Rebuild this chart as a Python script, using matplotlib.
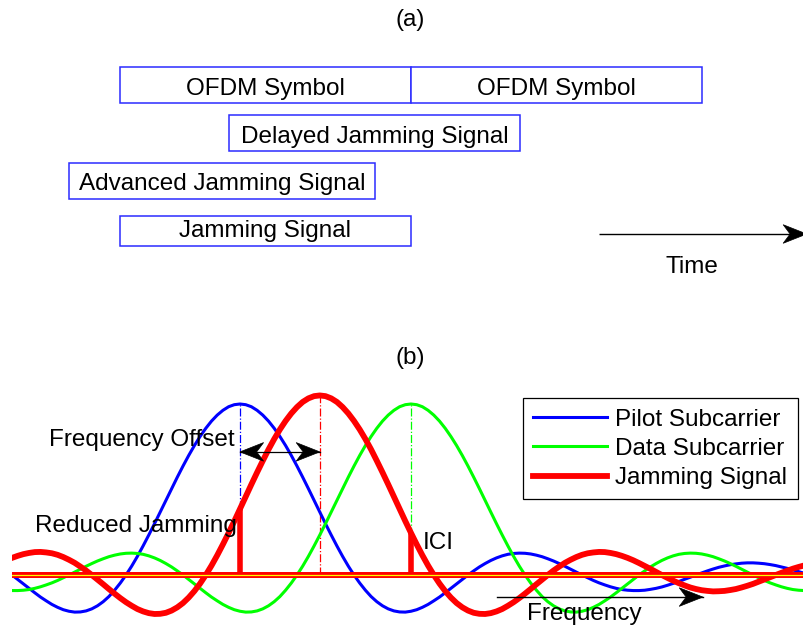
import numpy as np
import matplotlib.pyplot as plt
from matplotlib.patches import Rectangle, Polygon
from matplotlib.transforms import ScaledTranslation

plt.rcParams['font.family'] = ['Liberation Sans', 'DejaVu Sans']
FS = 17.5

# (a) time slots, start and length in OFDM symbol durations
slot_labels = ['OFDM Symbol', 'OFDM Symbol', 'Delayed Jamming Signal',
               'Advanced Jamming Signal', 'Jamming Signal']
slot_start = [0.0, 1.0, 0.375, -0.175, 0.0]
slot_length = [1.0, 1.0, 1.0, 1.05, 1.0]
slot_row = [0, 0, 1, 2, 3]

# (b) spectra against frequency in subcarrier spacings (-2 .. 5, step 0.05)
freq = np.linspace(-2, 5, 141)
pilot = [0.000, -0.026, -0.052, -0.078, -0.104, -0.129, -0.151, -0.172, -0.189, -0.203,
         -0.212, -0.217, -0.216, -0.210, -0.198, -0.180, -0.156, -0.126, -0.089, -0.047,
         0.000, 0.052, 0.109, 0.170, 0.234, 0.300, 0.368, 0.436, 0.505, 0.572,
         0.637, 0.699, 0.757, 0.810, 0.858, 0.900, 0.935, 0.963, 0.984, 0.996,
         1.000,
         0.996, 0.984, 0.963, 0.935, 0.900, 0.858, 0.810, 0.757, 0.699, 0.637,
         0.572, 0.505, 0.436, 0.368, 0.300, 0.234, 0.170, 0.109, 0.052, 0.000,
         -0.047, -0.089, -0.126, -0.156, -0.180, -0.198, -0.210, -0.216, -0.217, -0.212,
         -0.203, -0.189, -0.172, -0.151, -0.129, -0.104, -0.078, -0.052, -0.026, 0.000,
         0.024, 0.047, 0.067, 0.085, 0.100, 0.112, 0.121, 0.126, 0.128, 0.127,
         0.123, 0.116, 0.107, 0.095, 0.082, 0.067, 0.051, 0.034, 0.017, 0.000,
         -0.016, -0.032, -0.046, -0.058, -0.069, -0.078, -0.085, -0.089, -0.091, -0.091,
         -0.089, -0.084, -0.078, -0.070, -0.060, -0.049, -0.038, -0.025, -0.013, 0.000,
         0.012, 0.024, 0.035, 0.045, 0.053, 0.060, 0.065, 0.069, 0.071, 0.071,
         0.069, 0.066, 0.061, 0.055, 0.047, 0.039, 0.030, 0.020, 0.010, 0.000]
data_sc = [-0.091, -0.091, -0.089, -0.085, -0.078, -0.069, -0.058, -0.046, -0.032, -0.016,
           0.000, 0.017, 0.034, 0.051, 0.067, 0.082, 0.095, 0.107, 0.116, 0.123,
           0.127, 0.128, 0.126, 0.121, 0.112, 0.100, 0.085, 0.067, 0.047, 0.024,
           0.000, -0.026, -0.052, -0.078, -0.104, -0.129, -0.151, -0.172, -0.189, -0.203,
           -0.212, -0.217, -0.216, -0.210, -0.198, -0.180, -0.156, -0.126, -0.089, -0.047,
           0.000, 0.052, 0.109, 0.170, 0.234, 0.300, 0.368, 0.436, 0.505, 0.572,
           0.637, 0.699, 0.757, 0.810, 0.858, 0.900, 0.935, 0.963, 0.984, 0.996,
           1.000,
           0.996, 0.984, 0.963, 0.935, 0.900, 0.858, 0.810, 0.757, 0.699, 0.637,
           0.572, 0.505, 0.436, 0.368, 0.300, 0.234, 0.170, 0.109, 0.052, 0.000,
           -0.047, -0.089, -0.126, -0.156, -0.180, -0.198, -0.210, -0.216, -0.217, -0.212,
           -0.203, -0.189, -0.172, -0.151, -0.129, -0.104, -0.078, -0.052, -0.026, 0.000,
           0.024, 0.047, 0.067, 0.085, 0.100, 0.112, 0.121, 0.126, 0.128, 0.127,
           0.123, 0.116, 0.107, 0.095, 0.082, 0.067, 0.051, 0.034, 0.017, 0.000,
           -0.016, -0.032, -0.046, -0.058, -0.069, -0.078, -0.085, -0.089, -0.091, -0.091]
jamming = [0.100, 0.112, 0.122, 0.129, 0.134, 0.135, 0.132, 0.127, 0.118, 0.105,
           0.089, 0.071, 0.049, 0.026,
           0.000, -0.027, -0.054, -0.082, -0.109, -0.135, -0.159, -0.180, -0.199, -0.213,
           -0.223, -0.228, -0.227, -0.221, -0.208, -0.189, -0.164, -0.132, -0.094, -0.050,
           0.000, 0.055, 0.115, 0.179, 0.246, 0.315, 0.386, 0.458, 0.530, 0.600,
           0.668, 0.734, 0.795, 0.851, 0.901, 0.945, 0.982, 1.012, 1.033, 1.046,
           1.050,
           1.046, 1.033, 1.012, 0.982, 0.945, 0.901, 0.851, 0.795, 0.734, 0.668,
           0.600, 0.530, 0.458, 0.386, 0.315, 0.246, 0.179, 0.115, 0.055, 0.000,
           -0.050, -0.094, -0.132, -0.164, -0.189, -0.208, -0.221, -0.227, -0.228, -0.223,
           -0.213, -0.199, -0.180, -0.159, -0.135, -0.109, -0.082, -0.054, -0.027, 0.000,
           0.026, 0.049, 0.071, 0.089, 0.105, 0.118, 0.127, 0.132, 0.135, 0.134,
           0.129, 0.122, 0.112, 0.100, 0.086, 0.070, 0.053, 0.036, 0.018, 0.000,
           -0.017, -0.033, -0.048, -0.061, -0.073, -0.082, -0.089, -0.093, -0.096, -0.095,
           -0.093, -0.088, -0.082, -0.073, -0.063, -0.052, -0.039, -0.026, -0.013, 0.000,
           0.013, 0.025, 0.037, 0.047, 0.056, 0.063]
pilot_centre = 0.0
jam_centre = 0.7
data_centre = 1.5


def head(ax, x, y, d, length=17.0, half=6.7, notch=5.0):
    # filled arrow head with a notched back, sized in points
    pts = np.array([[0, 0], [-d * length, half], [-d * (length - notch), 0],
                    [-d * length, -half]]) / 72.0
    tr = ax.figure.dpi_scale_trans + ScaledTranslation(x, y, ax.transData)
    ax.add_patch(Polygon(pts, closed=True, transform=tr, fc='black',
                         ec='black', lw=0.5, clip_on=False, zorder=6))


fig = plt.figure(figsize=(8.04, 6.27), dpi=100)

# ---- (a) ----
ax_a = fig.add_axes([0, 1 - 300 / 627, 1, 300 / 627])
ax_a.set_xlim(-120 / 291, 684 / 291)
ax_a.set_ylim(300, 0)
ax_a.axis('off')

row_top = [67, 115, 163, 216]
row_height = [36, 36, 36, 30]
text_base = [95, 143, 190, 237]
for lab, s, w, r in zip(slot_labels, slot_start, slot_length, slot_row):
    ax_a.add_patch(Rectangle((s, row_top[r]), w, row_height[r], fc='white',
                             ec='#2b2bff', lw=1.1))
    ax_a.text(s + w / 2, text_base[r], lab, ha='center', va='baseline', fontsize=FS)

ax_a.plot([1.646, 2.36], [234, 234], color='black', lw=1.0, solid_capstyle='butt')
head(ax_a, 2.36, 234, 1)
ax_a.text(1.966, 273, 'Time', ha='center', va='baseline', fontsize=FS)

# ---- (b) ----
ax_b = fig.add_axes([12 / 804, 0, 798 / 804, 247 / 627])
ax_b.set_xlim(-2, 5)
ax_b.set_ylim(-52 / 171, 195 / 171)
ax_b.axis('off')

ax_b.plot(freq, pilot, color='#0000ff', lw=2.2, label='Pilot Subcarrier', zorder=2)
ax_b.plot(freq, data_sc, color='#00ff00', lw=2.2, label='Data Subcarrier', zorder=2)
ax_b.plot(freq, jamming, color='#ff0000', lw=4.2, label='Jamming Signal', zorder=3)

# carrier centre markers
for c, ys, col in [(pilot_centre, pilot, '#0000ff'), (jam_centre, jamming, '#ff0000'),
                   (data_centre, data_sc, '#00ff00')]:
    ax_b.plot([c, c], [0, max(ys)], color=col, lw=0.9, ls='-.', zorder=1)

# jamming power falling on the pilot and data subcarriers
for c in [pilot_centre, data_centre]:
    ax_b.plot([c, c], [0, np.interp(c, freq, jamming)], color='#ff0000', lw=4.0,
              solid_capstyle='butt', zorder=3)

ax_b.axhline(0, color='#ff0000', lw=4.3, zorder=4)
ax_b.axhline(0, color='#ffff00', lw=0.9, zorder=5)

# frequency offset double arrow
ax_b.plot([pilot_centre, jam_centre], [0.72, 0.72], color='black', lw=0.9, zorder=6)
head(ax_b, pilot_centre, 0.72, -1)
head(ax_b, jam_centre, 0.72, 1)

ax_b.text(-0.044, 0.754, 'Frequency Offset', ha='right', va='baseline', fontsize=FS)
ax_b.text(-1.80, 0.253, 'Reduced Jamming', ha='left', va='baseline', fontsize=FS)
ax_b.text(1.605, 0.152, 'ICI', ha='left', va='baseline', fontsize=FS)

ax_b.plot([2.254, 4.06], [-0.129, -0.129], color='black', lw=1.0, zorder=6)
head(ax_b, 4.06, -0.129, 1)
ax_b.text(2.52, -0.263, 'Frequency', ha='left', va='baseline', fontsize=FS)

ax_b.legend(loc='upper right', bbox_to_anchor=(797.7 / 804, 1 - 398.3 / 627),
            bbox_transform=fig.transFigure, fontsize=FS, handlelength=3.05,
            handletextpad=0.35, labelspacing=0.3, borderpad=0.42,
            borderaxespad=0, fancybox=False, framealpha=1, edgecolor='black')
ax_b.get_legend().get_frame().set_linewidth(0.9)

fig.text(410 / 804, 1 - 20 / 627, '(a)', ha='center', va='center', fontsize=FS)
fig.text(410 / 804, 1 - 358 / 627, '(b)', ha='center', va='center', fontsize=FS)

fig.savefig('out.png', dpi=100)
